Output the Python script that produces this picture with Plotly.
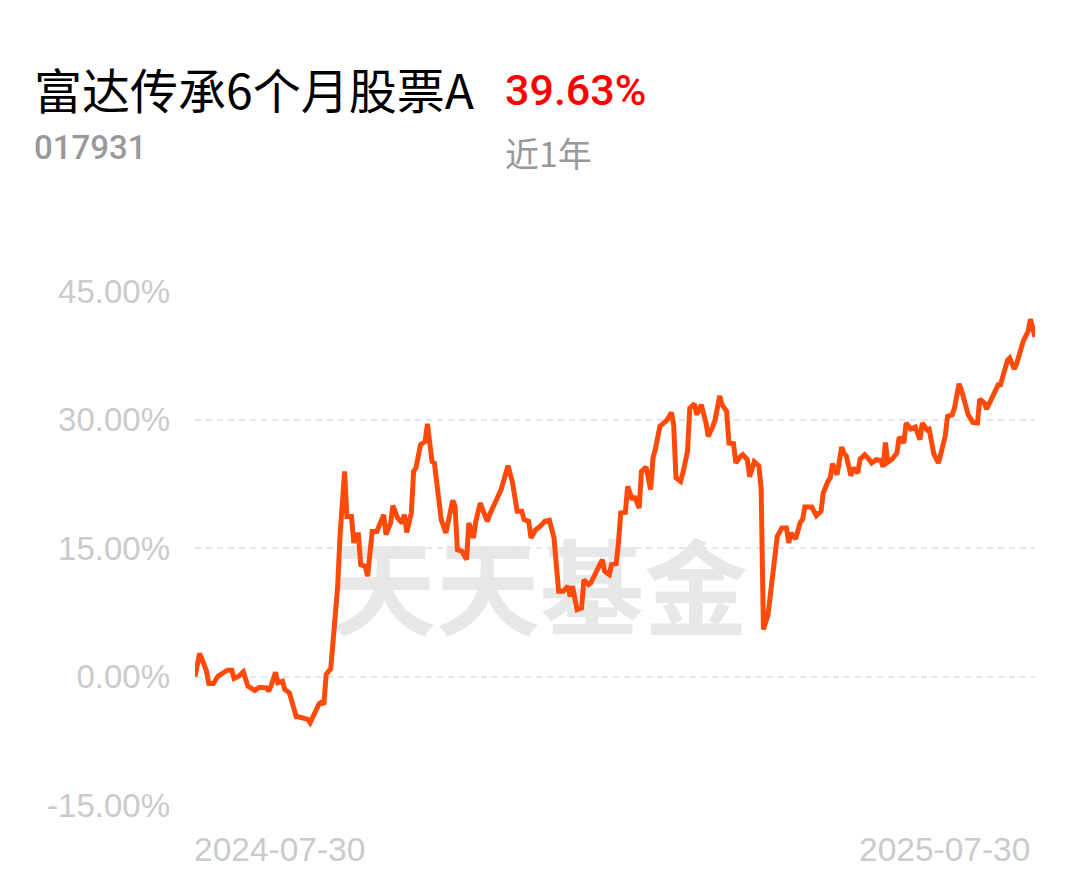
import plotly.graph_objects as go
import pandas as pd

fund_name = "富达传承6个月股票A"
fund_code = "017931"
period_return = "39.63%"
period_label = "近1年"
watermark = "天天基金"
start_date = "2024-07-30"
end_date = "2025-07-30"
y_ticks = [-15, 0, 15, 30, 45]

# days since start date, and cumulative return (%)
day_offsets = [
    0, 2, 3, 5, 6, 8, 10, 12, 14, 16, 17, 19, 21, 23, 25, 26, 28, 29, 31, 32,
    33, 35, 36, 38, 39, 41, 42, 44, 45, 47, 49, 50, 52, 54, 55, 56, 57, 59, 62, 63,
    65, 66, 68, 69, 70, 71, 72, 74, 75, 77, 79, 80, 82, 83, 85, 86, 88, 90, 91, 92,
    94, 95, 96, 98, 100, 101, 103, 104, 106, 107, 109, 110, 112, 113, 114, 116, 118, 119, 121, 122,
    124, 125, 127, 128, 130, 131, 133, 134, 136, 138, 139, 140, 142, 143, 145, 146, 148, 150, 152, 154,
    156, 157, 158, 160, 162, 163, 164, 166, 168, 169, 171, 172, 174, 175, 177, 178, 180, 181, 183, 184,
    185, 187, 188, 190, 191, 193, 194, 196, 198, 199, 200, 202, 203, 205, 207, 208, 209, 211, 212, 214,
    215, 217, 218, 220, 222, 223, 225, 226, 228, 229, 231, 232, 234, 235, 237, 238, 240, 241, 243, 245,
    246, 247, 249, 251, 252, 253, 255, 257, 258, 259, 261, 263, 264, 265, 268, 270, 272, 273, 275, 276,
    277, 279, 281, 282, 283, 285, 286, 288, 289, 291, 293, 294, 296, 298, 299, 300, 301, 303, 305, 306,
    308, 309, 311, 313, 315, 316, 318, 319, 321, 323, 324, 326, 327, 329, 330, 332, 333, 335, 336, 338,
    340, 341, 343, 344, 346, 348, 349, 350, 352, 353, 354, 356, 357, 359, 360, 362, 363, 365,
]
returns = [
    0.00, 2.68, 2.06, 0.62, -0.82, -0.82, 0.03, 0.43, 0.73, 0.73, -0.23, 0.03, 0.55, -1.13, -1.52, -1.63, -1.25, -1.32, -1.32, -1.71,
    -1.13, 0.50, -0.73, -0.55, -1.52, -1.90, -2.88, -4.70, -4.70, -4.93, -5.01, -5.40, -4.23, -3.15, -3.00, -3.27, 0.23, 0.93, 10.53, 16.36,
    23.94, 18.69, 18.69, 15.59, 16.56, 16.56, 13.06, 12.86, 11.70, 16.94, 16.94, 17.53, 18.89, 16.56, 17.92, 19.94, 18.51, 17.92, 18.89, 16.83,
    19.09, 23.94, 24.34, 27.06, 27.44, 29.50, 25.10, 24.92, 20.64, 18.31, 16.76, 18.11, 20.56, 19.86, 14.81, 14.61, 13.64, 17.92, 16.17, 18.11,
    20.26, 19.48, 18.11, 18.89, 19.86, 20.64, 21.81, 22.78, 24.61, 22.59, 20.64, 19.28, 19.28, 18.31, 18.11, 16.17, 17.14, 17.53, 18.11, 18.23,
    16.17, 12.86, 9.95, 9.95, 10.53, 9.36, 10.53, 7.81, 8.01, 11.31, 10.73, 10.93, 11.90, 12.68, 13.64, 12.28, 11.90, 13.06, 13.18, 15.59,
    19.09, 19.16, 22.19, 20.64, 21.03, 19.67, 23.94, 24.46, 21.81, 25.50, 26.47, 29.19, 29.39, 29.89, 30.82, 29.39, 23.17, 22.78, 23.76, 26.27,
    31.33, 31.84, 30.55, 31.72, 29.66, 28.02, 29.19, 29.97, 32.77, 31.72, 30.94, 27.25, 27.17, 24.92, 25.69, 25.89, 25.31, 23.32, 25.07, 24.57,
    21.92, 5.48, 7.23, 11.70, 13.64, 16.36, 17.34, 17.34, 15.59, 16.76, 16.06, 17.99, 18.31, 19.79, 19.79, 18.78, 19.28, 21.42, 22.78, 23.17,
    24.84, 23.56, 26.79, 26.01, 25.77, 23.44, 24.34, 23.76, 25.39, 25.89, 25.31, 24.92, 25.31, 25.22, 24.46, 27.32, 25.00, 25.39, 26.09, 27.95,
    27.25, 29.59, 28.89, 29.12, 27.64, 29.59, 28.80, 28.89, 26.01, 24.92, 25.89, 28.10, 30.36, 30.55, 31.33, 34.17, 33.47, 31.33, 30.55, 29.66,
    29.59, 32.38, 31.92, 31.22, 32.30, 33.27, 34.05, 34.05, 36.00, 36.89, 37.17, 35.88, 36.50, 38.72, 39.22, 40.27, 41.71, 39.63,
]
assert len(day_offsets) == len(returns)

dates = pd.Timestamp(start_date) + pd.to_timedelta(day_offsets, unit="D")

LINE_COLOR = "#FF4A0A"
TICK_COLOR = "#CBCBCB"
GRID_COLOR = "#E6E6E6"
CJK = "Noto Sans CJK SC"
LATIN = "Liberation Sans, Arial, sans-serif"

fig = go.Figure()
fig.add_trace(go.Scatter(
    x=dates, y=returns, mode="lines",
    line=dict(color=LINE_COLOR, width=5),
    hoverinfo="skip", showlegend=False,
))

fig.update_layout(
    width=1080, height=881,
    margin=dict(l=195, r=45, t=291, b=76),
    paper_bgcolor="white", plot_bgcolor="white",
    showlegend=False,
    xaxis=dict(
        type="date", range=[start_date, end_date],
        showgrid=False, zeroline=False, showline=False,
        showticklabels=False, ticks="",
    ),
    yaxis=dict(
        range=[y_ticks[0], y_ticks[-1]],
        tickvals=y_ticks,
        ticktext=[f"{v:.2f}%" for v in y_ticks],
        tickfont=dict(family=LATIN, size=33, color=TICK_COLOR),
        showgrid=True, gridcolor=GRID_COLOR, gridwidth=2, griddash="6px,5px",
        zeroline=False, showline=False, ticks="",
        ticklabelstandoff=24,
    ),
)

fig.add_shape(
    type="rect", xref="paper", yref="paper",
    x0=0.1607, x1=0.6607, y0=0.302, y1=0.497,
    line=dict(width=0), fillcolor="rgba(0,0,0,0)", layer="below",
    label=dict(text=watermark, textposition="middle center",
               font=dict(family=CJK, size=104, color="#E8E8E8", weight=700)),
)

ann = [
    dict(text=fund_name, x=-0.1940, y=1.395, xanchor="left", yanchor="middle",
         font=dict(family=CJK, size=48, color="#000000")),
    dict(text=fund_code, x=-0.1940, y=1.280, xanchor="left", yanchor="middle",
         font=dict(family="Roboto", size=33, color="#999999", weight=500)),
    dict(text=period_return, x=0.3667, y=1.391, xanchor="left", yanchor="middle",
         font=dict(family="Roboto", size=43, color="#FF0000", weight=500)),
    dict(text=period_label, x=0.3667, y=1.270, xanchor="left", yanchor="middle",
         font=dict(family=CJK, size=34, color="#999999")),
    dict(text=start_date, x=-0.004, y=-0.0875, xanchor="left", yanchor="middle",
         font=dict(family=LATIN, size=33.5, color=TICK_COLOR)),
    dict(text=end_date, x=0.996, y=-0.0875, xanchor="right", yanchor="middle",
         font=dict(family=LATIN, size=33.5, color=TICK_COLOR)),
]
for a in ann:
    fig.add_annotation(xref="paper", yref="paper", showarrow=False, **a)

fig.write_html("out.html", config={"displayModeBar": False},
               post_script="document.body.style.margin='0';")
